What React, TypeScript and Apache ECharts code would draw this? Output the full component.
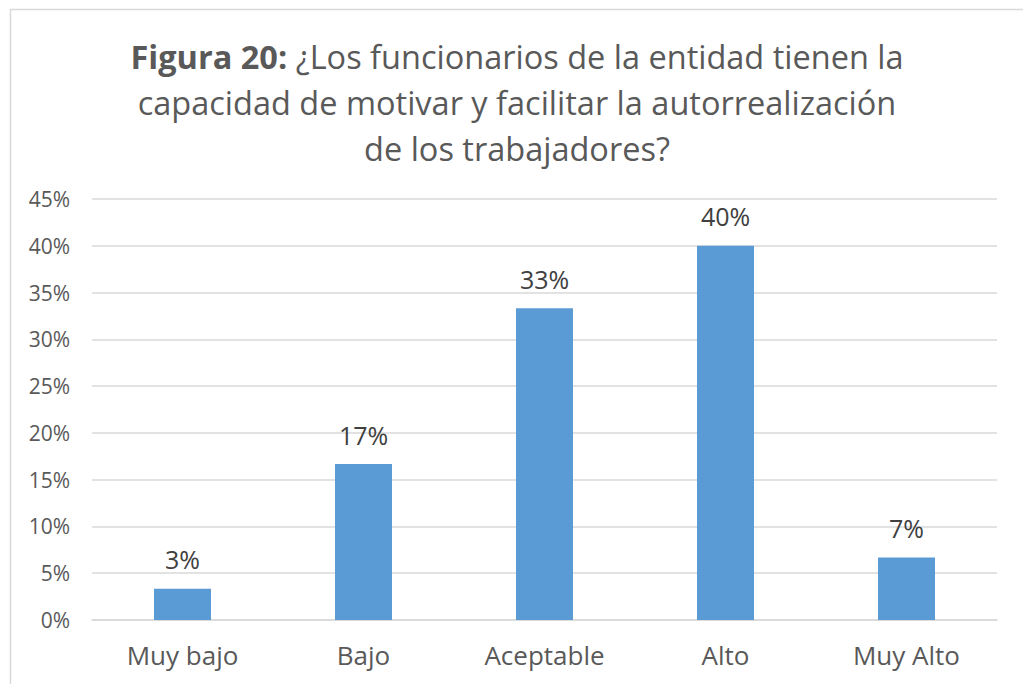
import React, { useEffect, useRef } from "react";
import * as echarts from "echarts";

const categories = ["Muy bajo", "Bajo", "Aceptable", "Alto", "Muy Alto"];
const values = [3.33, 16.67, 33.33, 40, 6.67];
const titleLines = [
  "¿Los funcionarios de la entidad tienen la",
  "capacidad de motivar y facilitar la autorrealización",
  "de los trabajadores?",
];

export default function App() {
  const ref = useRef<HTMLDivElement>(null);
  useEffect(() => {
    document.body.style.margin = "0";
    const chart = echarts.init(ref.current!, null, { renderer: "svg" });
    const font = "'Open Sans', sans-serif";
    chart.setOption({
      animation: false,
      backgroundColor: "#ffffff",
      textStyle: { fontFamily: font },
      graphic: [
        {
          type: "rect",
          shape: { x: 10.5, y: 9.5, width: 1030, height: 700 },
          style: { fill: "none", stroke: "#D9D9D9", lineWidth: 1.5 },
          silent: true,
        },
      ],
      title: {
        left: 517,
        textAlign: "center",
        top: 33,
        padding: 0,
        text:
          "{b|Figura 20:} {n|" + titleLines[0] + "}\n{n|" + titleLines[1] + "}\n{n|" + titleLines[2] + "}",
        textStyle: {
          fontFamily: font,
          fontSize: 32.5,
          color: "#595959",
          lineHeight: 46,
          fontWeight: "normal",
          rich: {
            b: { fontFamily: font, fontSize: 32.5, fontWeight: "bold", color: "#595959", lineHeight: 46 },
            n: { fontFamily: font, fontSize: 32.5, color: "#595959", lineHeight: 46 },
          },
        },
      },
      grid: { left: 92, right: 26, top: 199, bottom: 64, containLabel: false },
      xAxis: {
        type: "category",
        data: categories,
        axisLine: { show: true, lineStyle: { color: "#D9D9D9", width: 1.5 } },
        axisTick: { show: false },
        axisLabel: { color: "#595959", fontSize: 26, margin: 22, fontFamily: font },
      },
      yAxis: {
        type: "value",
        min: 0,
        max: 45,
        interval: 5,
        axisLine: { show: false },
        axisTick: { show: false },
        splitLine: { lineStyle: { color: "#D9D9D9", width: 1.5 } },
        axisLabel: { color: "#595959", fontSize: 21, margin: 22, fontFamily: font, formatter: "{value}%" },
      },
      series: [
        {
          type: "bar",
          data: values,
          barWidth: "31.5%",
          itemStyle: { color: "#5B9BD5" },
          label: {
            show: true,
            position: "top",
            distance: 17,
            color: "#404040",
            fontSize: 25,
            fontFamily: font,
            formatter: (p: any) => Math.round(p.value) + "%",
          },
        },
      ],
    });
    return () => chart.dispose();
  }, []);
  return <div ref={ref} style={{ width: 1023, height: 684 }} />;
}
